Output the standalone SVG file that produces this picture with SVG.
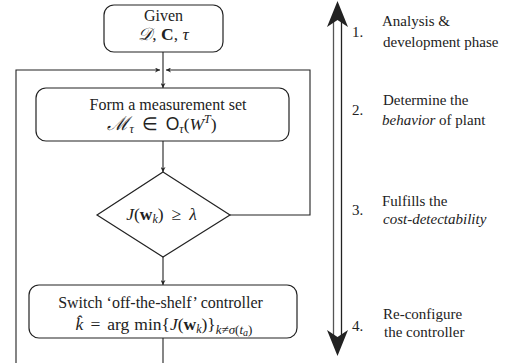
<svg xmlns="http://www.w3.org/2000/svg" width="515" height="363" viewBox="0 0 515 363">
<style>
.box{fill:#fff;stroke:#222;stroke-width:1.2}
.ln{fill:none;stroke:#222;stroke-width:1.1}
.t{font-family:"Liberation Serif","Times New Roman",serif;font-size:16px;fill:#222}
.mt{font-family:"Liberation Serif","Times New Roman",serif;font-size:17.5px;fill:#222}
.s{font-family:"Liberation Serif","Times New Roman",serif;font-size:15px;fill:#222}
.m{font-style:italic}
.b{font-weight:bold}
.sans{font-family:"Liberation Sans",Arial,sans-serif;font-style:normal}
</style>
<defs>
<marker id="ah" viewBox="0 0 10 10" refX="10" refY="5" markerWidth="5" markerHeight="5" orient="auto" markerUnits="userSpaceOnUse">
<path d="M0,0 L10,5 L0,10 L3,5 Z" fill="#222"/>
</marker>
</defs>
<g id="connectors">
<line class="ln" x1="163" y1="52" x2="163" y2="88" marker-end="url(#ah)"/>
<path class="ln" d="M16,363 V70 H160" marker-end="url(#ah)"/>
<path class="ln" d="M230,215 H310 V70 H166" marker-end="url(#ah)"/>
<line class="ln" x1="163" y1="141" x2="163" y2="172" marker-end="url(#ah)"/>
<line class="ln" x1="163" y1="257" x2="163" y2="285" marker-end="url(#ah)"/>
<line class="ln" x1="163" y1="338" x2="163" y2="363"/>
</g>
<g id="given">
<rect class="box" x="104" y="5" width="119" height="47" rx="10"/>
<text class="t" x="163.5" y="21" text-anchor="middle">Given</text>
<text class="mt" x="163.5" y="40" text-anchor="middle"><tspan class="m">𝒟</tspan>, <tspan class="b">C</tspan>, <tspan class="m">τ</tspan></text>
</g>
<g id="measure">
<rect class="box" x="36" y="88" width="253" height="53" rx="10"/>
<text class="t" x="168" y="110" text-anchor="middle">Form a measurement set</text>
<text class="mt" x="162" y="130" text-anchor="middle"><tspan class="m" font-size="19">ℳ</tspan><tspan class="m" font-size="12" dy="3">τ</tspan><tspan dx="8" dy="-3">∈</tspan><tspan class="sans" dx="8">O</tspan><tspan class="m" font-size="12" dy="3">τ</tspan><tspan dy="-3">(</tspan><tspan class="m">W</tspan><tspan class="m" font-size="12" dy="-7">T</tspan><tspan dy="7">)</tspan></text>
</g>
<g id="decision">
<polygon class="box" points="163,172 230,215 163,257 97,215"/>
<text class="mt" x="161.5" y="220" text-anchor="middle"><tspan class="m">J</tspan>(<tspan class="b">w</tspan><tspan class="m" font-size="12" dy="3">k</tspan><tspan dy="-3">)</tspan><tspan dx="8">≥</tspan><tspan class="m" dx="8">λ</tspan></text>
</g>
<g id="switch">
<rect class="box" x="29" y="285" width="268" height="53" rx="10"/>
<text class="t" x="160.5" y="308" text-anchor="middle">Switch ‘off-the-shelf’ controller</text>
<text class="mt" x="164" y="330" text-anchor="middle"><tspan class="m">k̂</tspan><tspan dx="7">=</tspan><tspan dx="7">arg</tspan><tspan dx="5">min{</tspan><tspan class="m">J</tspan>(<tspan class="b">w</tspan><tspan class="m" font-size="12" dy="3">k</tspan><tspan dy="-3">)}</tspan><tspan class="m" font-size="13" dy="4">k</tspan><tspan font-size="13">≠</tspan><tspan class="m" font-size="13">σ</tspan><tspan font-size="13">(</tspan><tspan class="m" font-size="13">t</tspan><tspan class="m" font-size="10" dy="2">a</tspan><tspan font-size="13" dy="-2">)</tspan></text>
</g>
<g id="phase-arrow">
<line x1="333.5" y1="20" x2="333.5" y2="338" stroke="#555" stroke-width="1.3"/>
<line x1="341.5" y1="20" x2="341.5" y2="338" stroke="#222" stroke-width="1.3"/>
<path d="M337.5,1 L348,27 L337.5,20 L327,27 Z" fill="#222"/>
<path d="M337.5,356 L348,330 L337.5,337 L327,330 Z" fill="#222"/>
</g>
<g id="labels">
<text class="s" x="352" y="37">1.</text>
<text class="s" x="382" y="26">Analysis &amp;</text>
<text class="s" x="383" y="46.5">development phase</text>
<text class="s" x="352" y="115">2.</text>
<text class="s" x="383" y="105">Determine the</text>
<text class="s" x="382" y="125"><tspan class="m">behavior</tspan> of plant</text>
<text class="s" x="352" y="215">3.</text>
<text class="s" x="382" y="206">Fulfills the</text>
<text class="s m" x="383" y="223.5">cost-detectability</text>
<text class="s" x="352" y="331">4.</text>
<text class="s" x="383" y="319">Re-configure</text>
<text class="s" x="384" y="337">the controller</text>
</g>
</svg>
